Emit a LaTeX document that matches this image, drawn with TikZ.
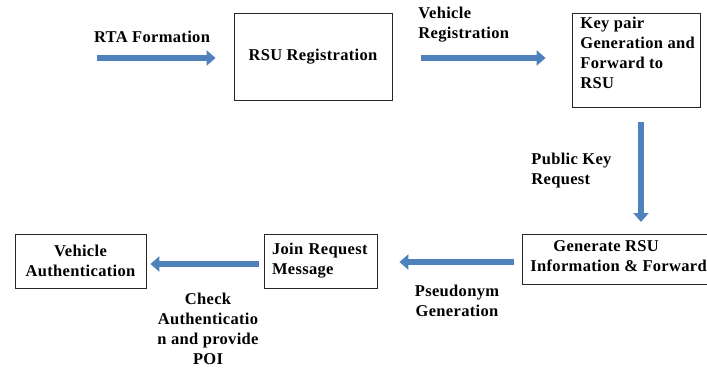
\documentclass[tikz,border=0pt]{standalone}
\usepackage{fontspec}
\setmainfont{LiberationSerif}[Extension=.ttf, UprightFont=*-Regular, BoldFont=*-Bold,
  ItalicFont=*-Italic, BoldItalicFont=*-BoldItalic, LetterSpace=2.0]
\usetikzlibrary{arrows.meta}
\definecolor{flowblue}{RGB}{79,129,189}

\begin{document}
\begin{tikzpicture}[x=1pt, y=-1pt, line width=0.8pt,
    lab/.style={inner sep=0pt, font=\bfseries\fontsize{16.5}{20}\selectfont},
    box/.style={draw=black!85, inner sep=0pt},
    flow/.style={draw=flowblue, line width=6pt, -{Triangle[length=9pt,width=15pt]}}]
  \useasboundingbox (0,0) rectangle (707,367);
  % ---- boxes -----------------------------------------------------------
  \node[box, lab, minimum width=158, minimum height=87] (rsu) at (313,56.5) {RSU Registration};
  \node[box, minimum width=128, minimum height=94] (keypair) at (636,60) {};
  \node[box, lab, align=left, text width=97, minimum width=113, minimum height=54] (join) at (320.5,261) {Join Request\\Message};
  \node[box, lab, align=center, minimum width=131, minimum height=54] (vauth) at (80.5,261) {Vehicle\\Authentication};
  \draw[black!85] (707,234) -| (522,284) -- (707,284);
  % ---- texts -----------------------------------------------------------
  \node[lab] (rta) at (152,37) {RTA Formation};
  \node[lab, anchor=west, align=left] (vreg) at (418,25) {Vehicle\\Registration};
  \node[lab, anchor=north west, align=left] (kptxt) at (580,16.5) {Key pair\\Generation and\\Forward to\\RSU};
  \node[lab, anchor=west, align=left] (pkreq) at (531,171) {Public Key\\Request};
  \node[lab, anchor=west, align=left] (gen) at (530,256.5) {\hspace{23pt}Generate RSU\\Information \& Forward};
  \node[lab, align=center] (pseudo) at (457,301) {Pseudonym\\Generation};
  \node[lab, align=center] (check) at (208,328.5) {Check\\Authenticatio\\n and provide\\POI};
  % ---- arrows ----------------------------------------------------------
  \coordinate (rtaTail) at (97,58);
  \coordinate (genTop) at (641,234);
  \coordinate (genLeft) at (522,262);
  \draw[flow, shorten >=18pt] (rtaTail) -- (rtaTail -| rsu.west);
  \draw[flow, shorten <=29pt, shorten >=26pt] ([yshift=-1.5pt]rsu.east) -- ([yshift=-1.5pt]rsu.east -| keypair.west);
  \draw[flow, shorten <=15pt, shorten >=12pt] (genTop |- keypair.south) -- (genTop);
  \draw[flow, shorten <=8pt, shorten >=22pt] (genLeft) -- (genLeft -| join.east);
  \draw[flow, shorten <=5pt, shorten >=4pt] ([yshift=-3pt]join.west) -- ([yshift=-3pt]join.west -| vauth.east);
\end{tikzpicture}
\end{document}
